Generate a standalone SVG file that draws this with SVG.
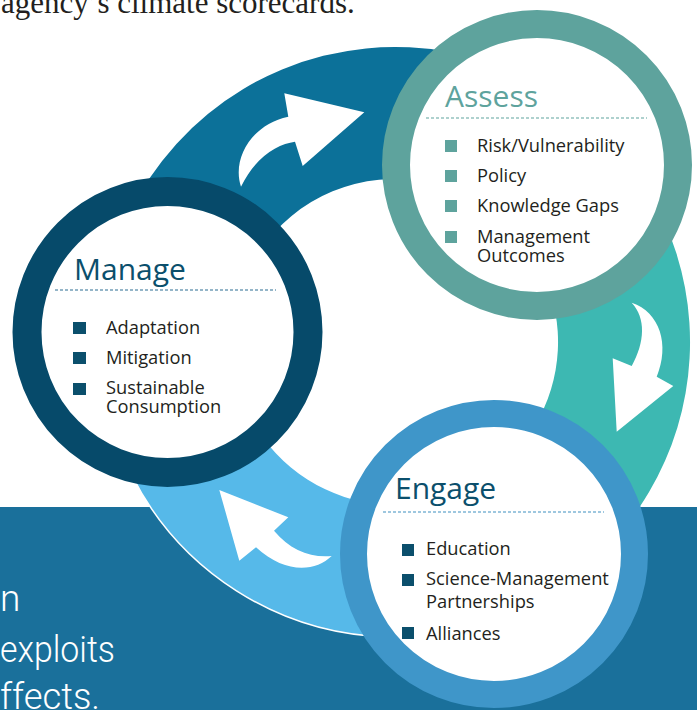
<svg xmlns="http://www.w3.org/2000/svg" width="697" height="710" viewBox="0 0 697 710">
<style>
.head{font-family:"Open Sans","Noto Sans","Liberation Sans",sans-serif;font-size:30px}
.item{font-family:"Open Sans","Noto Sans","Liberation Sans",sans-serif;font-size:18.3px;fill:#231f20}
.side{font-family:Roboto,"Liberation Sans",sans-serif;font-weight:300;font-size:37px;fill:#ffffff}
.dots{fill:none;stroke-width:1.2;stroke-dasharray:3 2}
.ring{fill:#ffffff}
.arrow{fill:#ffffff}
</style>
<defs>
<clipPath id="aboveBand"><rect x="0" y="0" width="697" height="507"/></clipPath>
</defs>
<rect x="0" y="0" width="697" height="710" fill="#ffffff"/>
<text x="1" y="13" font-family="Liberation Serif,serif" font-size="31" fill="#231f20">agency’s climate scorecards.</text>
<rect x="0" y="507" width="697" height="203" fill="#1a709b"/>
<text class="side" x="0" y="611">n</text>
<text class="side" x="0" y="662" textLength="115" lengthAdjust="spacingAndGlyphs">exploits</text>
<text class="side" x="0" y="709" textLength="100" lengthAdjust="spacingAndGlyphs">ffects.</text>
<g id="connectors">
<path d="M 603.6,133.4 A 295 295 0 0 1 519.7,609.4 L 463.9,489.7 A 163 163 0 0 0 510.3,226.7 Z" fill="#3db8b2" clip-path="url(#aboveBand)"/>
<path d="M 100,342 A 295 295 0 0 1 603.6,133.4 L 510.3,226.7 A 163 163 0 0 0 232,342 Z" fill="#0c7199"/>
<path d="M 519.7,609.4 A 295 295 0 0 1 100,342 L 232,342 A 163 163 0 0 0 463.9,489.7 Z" fill="#56b9e9"/>
<path d="M 519.7,609.4 A 295 295 0 0 1 100,342" fill="none" stroke="#ffffff" stroke-width="1.5"/>
<path class="arrow" d="M 284.3,93.3 L 364.3,112.3 L 302.7,166 L 295,141.7 C 278,144 256,156 241,186.7 C 232,160 250,125 288.3,116.7 Z"/>
<path class="arrow" d="M 612.7,358.3 L 631.7,366 C 645,342 646,318 631.7,302.7 C 660,312 670,345 656.7,376.7 L 673.3,386 L 616.7,431.7 Z"/>
<path class="arrow" d="M 219.3,490 L 288.3,517.3 L 274,530.7 C 290,550 310,558 331.7,556 C 315,572 285,574 256,547.3 L 239.3,560.7 Z"/>
</g>
<g id="node-manage">
<circle class="ring" cx="167.5" cy="332" r="140.5" stroke="#064a6a" stroke-width="29"/>
<text class="head" x="74" y="280" fill="#0b4f6c">Manage</text>
<line class="dots" x1="55" y1="290" x2="276" y2="290" stroke="#2a6d92"/>
<rect x="73" y="322" width="13" height="12" fill="#0b4f6c"/>
<rect x="73" y="352" width="13" height="12" fill="#0b4f6c"/>
<rect x="73" y="383" width="13" height="12" fill="#0b4f6c"/>
<text class="item" x="106" y="334">Adaptation</text>
<text class="item" x="106" y="364">Mitigation</text>
<text class="item" x="106" y="394">Sustainable</text>
<text class="item" x="106" y="413">Consumption</text>
</g>
<g id="node-assess">
<circle class="ring" cx="537" cy="165" r="141" stroke="#5ea39d" stroke-width="28"/>
<text class="head" x="445" y="107" fill="#5ea39d">Assess</text>
<line class="dots" x1="426" y1="118" x2="647" y2="118" stroke="#5ea39d"/>
<rect x="445" y="140" width="12" height="12" fill="#5ea39d"/>
<rect x="445" y="170" width="12" height="12" fill="#5ea39d"/>
<rect x="445" y="200" width="12" height="12" fill="#5ea39d"/>
<rect x="445" y="231" width="12" height="12" fill="#5ea39d"/>
<text class="item" x="477" y="152">Risk/Vulnerability</text>
<text class="item" x="477" y="182">Policy</text>
<text class="item" x="477" y="212">Knowledge Gaps</text>
<text class="item" x="477" y="243">Management</text>
<text class="item" x="477" y="262">Outcomes</text>
</g>
<g id="node-engage">
<circle class="ring" cx="494" cy="554" r="140.5" stroke="#3f96c9" stroke-width="27"/>
<text class="head" x="395" y="499" fill="#0b4f6c">Engage</text>
<line class="dots" x1="383" y1="512" x2="604" y2="512" stroke="#3f8fbf"/>
<rect x="402" y="544" width="12" height="12" fill="#0b4f6c"/>
<rect x="402" y="574" width="12" height="12" fill="#0b4f6c"/>
<rect x="402" y="627" width="12" height="12" fill="#0b4f6c"/>
<text class="item" x="426" y="555">Education</text>
<text class="item" x="426" y="585">Science-Management</text>
<text class="item" x="426" y="608">Partnerships</text>
<text class="item" x="426" y="640">Alliances</text>
</g>
</svg>
